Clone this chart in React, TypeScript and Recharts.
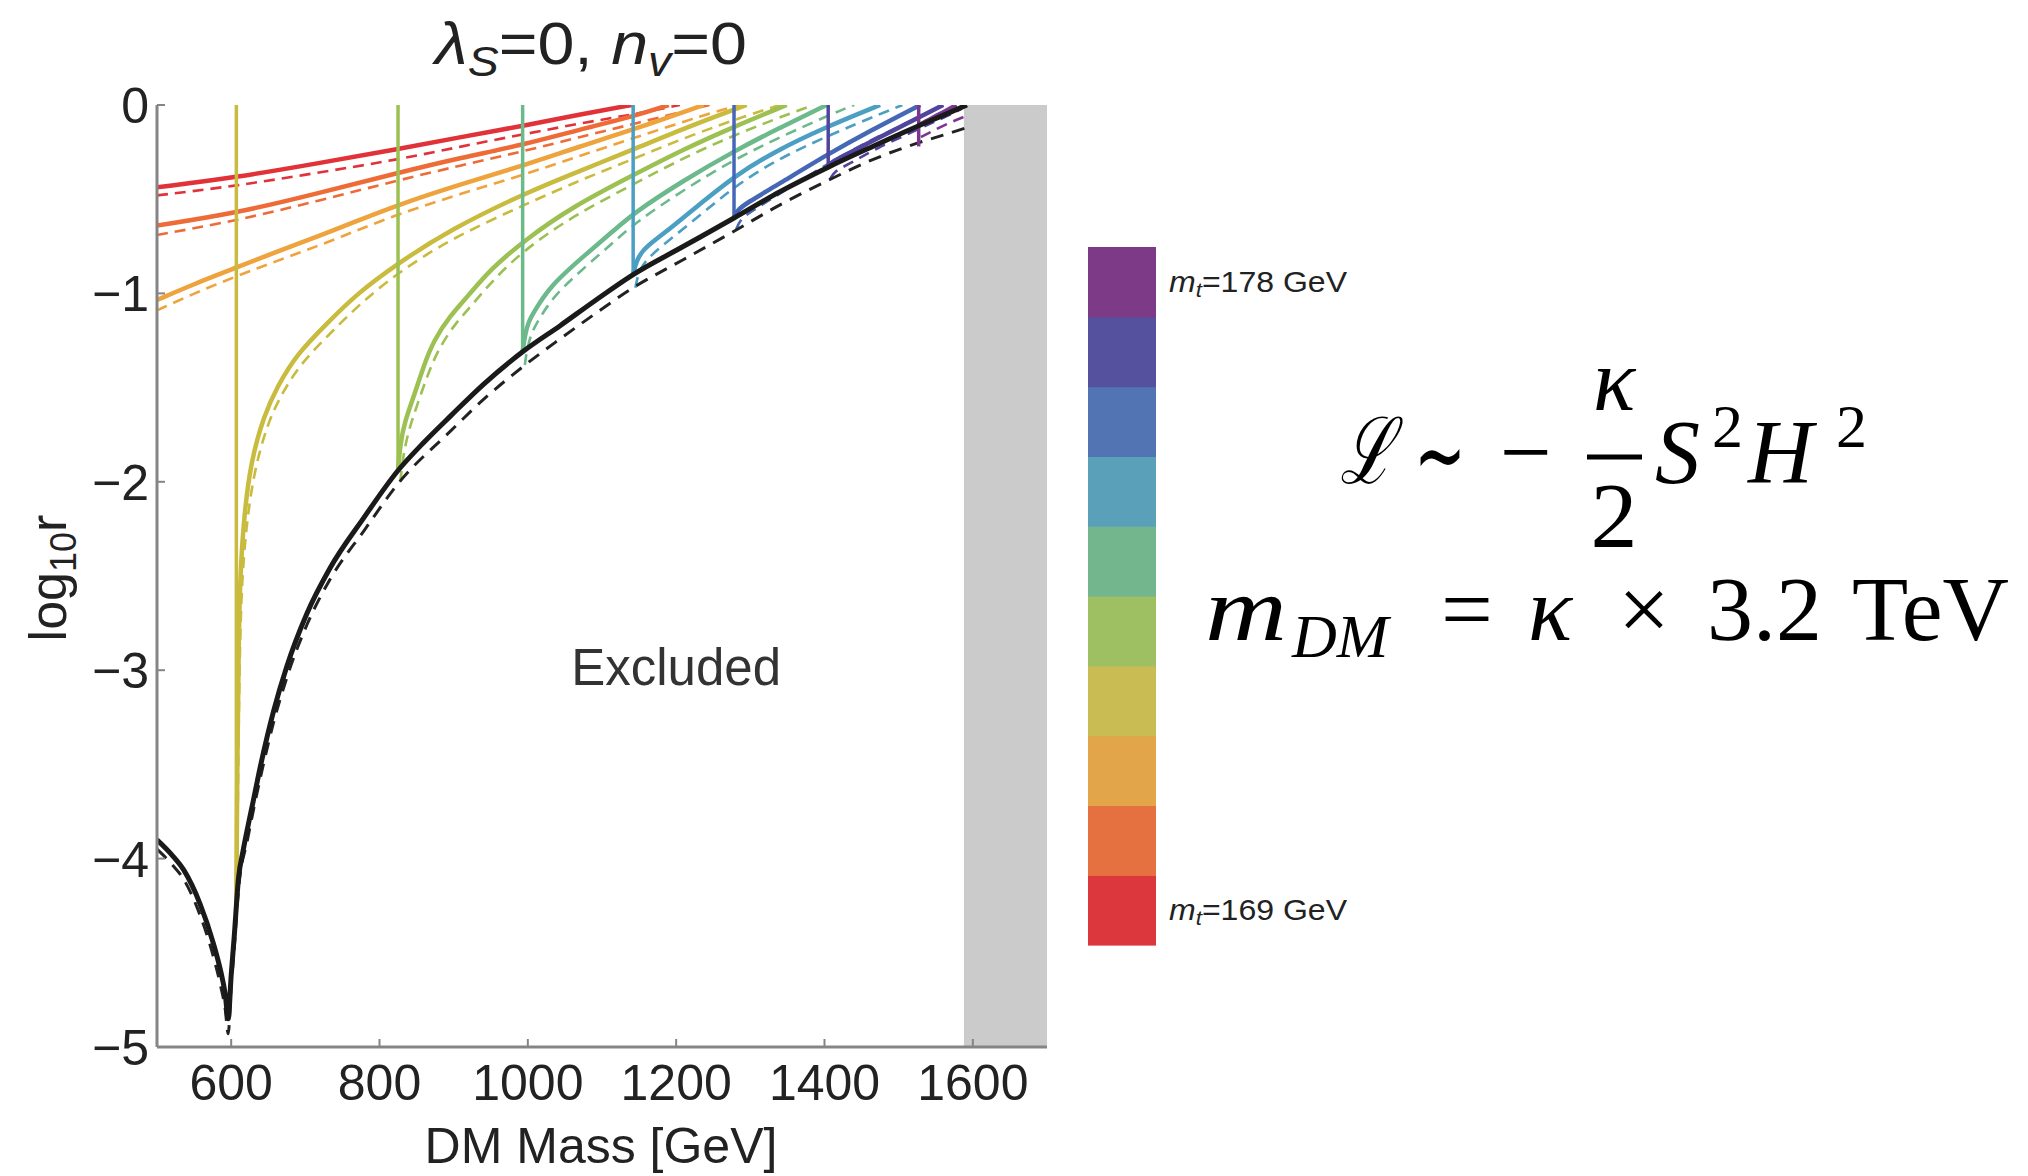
import { Line, LineChart, ReferenceArea, ReferenceDot, XAxis, YAxis } from "recharts";

// axis ticks
const xTicks = [600, 800, 1000, 1200, 1400, 1600];
const xMinorTicks = [500, 550, 600, 650, 700, 750, 800, 850, 900, 950, 1000, 1050, 1100, 1150, 1200, 1250, 1300, 1350, 1400, 1450, 1500, 1550, 1600, 1650, 1700];
const yTicks = [0, -1, -2, -3, -4, -5];
const yMinorTicks = [0, -0.2, -0.4, -0.6, -0.8, -1, -1.2, -1.4, -1.6, -1.8, -2, -2.2, -2.4, -2.6, -2.8, -3, -3.2, -3.4, -3.6, -3.8, -4, -4.2, -4.4, -4.6, -4.8, -5];

// top mass per curve, bottom (169) to top (178)
const topMasses = [169, 170, 171, 172, 173, 174, 175, 176, 177, 178];
const lineColors = ["#e23239", "#ee6b37", "#eea33c", "#c8bb3e", "#9cc052", "#6cb98b", "#4b9fc3", "#4568b6", "#50459e", "#7b3590"];
const barColors = ["#db373c", "#e57040", "#e3a54a", "#c8bc52", "#9ebf62", "#73b58c", "#5aa0b8", "#5274b2", "#55519e", "#7d3a87"];

// [DM mass, log10 r]  solid and dashed
const mt169 = [[500, -0.437], [606, -0.385], [716, -0.31], [825, -0.234], [910, -0.17], [995, -0.11], [1070, -0.05], [1140, 0]];
const mt169d = [[500, -0.48], [606, -0.43], [716, -0.36], [825, -0.29], [910, -0.22], [995, -0.155], [1080, -0.09], [1143, -0.05], [1205, 0]];
const mt170 = [[500, -0.64], [606, -0.575], [716, -0.47], [825, -0.36], [910, -0.28], [995, -0.21], [1070, -0.13], [1143, -0.06], [1190, 0]];
const mt170d = [[500, -0.69], [606, -0.615], [716, -0.51], [825, -0.4], [910, -0.32], [995, -0.245], [1070, -0.17], [1143, -0.1], [1245, 0]];
const mt171 = [[500, -1.035], [550, -0.95], [606, -0.865], [660, -0.78], [716, -0.7], [770, -0.615], [825, -0.53], [910, -0.42], [995, -0.32], [1070, -0.22], [1143, -0.13], [1237, 0]];
const mt171d = [[500, -1.09], [550, -1.0], [606, -0.91], [660, -0.83], [716, -0.75], [770, -0.665], [825, -0.58], [910, -0.47], [995, -0.37], [1070, -0.27], [1143, -0.175], [1240, -0.05], [1285, 0]];
const mt172 = [[607, -4.26], [608, -3.6], [610, -2.9], [612, -2.5], [617, -2.2], [626, -1.9], [644, -1.65], [662, -1.495], [689, -1.32], [729, -1.16], [770, -1.0], [825, -0.84], [896, -0.66], [995, -0.47], [1070, -0.35], [1143, -0.235], [1220, -0.11], [1295, 0]];
const mt172d = [[609, -3.7], [611, -3.0], [614, -2.55], [620, -2.25], [630, -1.96], [648, -1.7], [667, -1.54], [694, -1.37], [734, -1.21], [775, -1.05], [825, -0.89], [896, -0.71], [995, -0.53], [1070, -0.4], [1143, -0.285], [1220, -0.16], [1300, -0.05], [1340, 0]];
const mt173 = [[825, -1.94], [828, -1.8], [834, -1.68], [846, -1.55], [860, -1.38], [873, -1.25], [895, -1.12], [918, -1.02], [950, -0.87], [995, -0.72], [1060, -0.54], [1143, -0.37], [1210, -0.235], [1278, -0.115], [1349, 0]];
const mt173d = [[828, -2.0], [832, -1.86], [839, -1.73], [851, -1.59], [865, -1.43], [879, -1.3], [900, -1.17], [923, -1.07], [955, -0.92], [995, -0.77], [1060, -0.59], [1143, -0.42], [1210, -0.28], [1278, -0.16], [1350, -0.05], [1385, 0]];
const mt174 = [[993, -1.31], [996, -1.22], [1001, -1.15], [1008, -1.1], [1030, -0.96], [1076, -0.8], [1115, -0.67], [1142, -0.575], [1210, -0.4], [1278, -0.245], [1340, -0.12], [1403, 0]];
const mt174d = [[996, -1.38], [999, -1.29], [1005, -1.21], [1013, -1.15], [1035, -1.01], [1080, -0.85], [1118, -0.72], [1145, -0.625], [1210, -0.45], [1278, -0.29], [1340, -0.17], [1420, -0.03], [1440, 0]];
const mt175 = [[1142, -0.9], [1146, -0.83], [1155, -0.77], [1170, -0.72], [1192, -0.655], [1237, -0.51], [1278, -0.38], [1331, -0.25], [1403, -0.115], [1475, 0]];
const mt175d = [[1145, -0.97], [1149, -0.89], [1158, -0.83], [1174, -0.77], [1196, -0.7], [1240, -0.56], [1280, -0.43], [1331, -0.3], [1403, -0.165], [1480, -0.04], [1505, 0]];
const mt176 = [[1278, -0.6], [1282, -0.56], [1295, -0.52], [1336, -0.425], [1405, -0.26], [1460, -0.14], [1529, 0]];
const mt176d = [[1281, -0.66], [1286, -0.61], [1299, -0.57], [1340, -0.47], [1405, -0.31], [1460, -0.19], [1530, -0.06], [1560, 0]];
const mt177 = [[1405, -0.33], [1410, -0.3], [1426, -0.27], [1470, -0.18], [1520, -0.08], [1560, 0]];
const mt177d = [[1408, -0.39], [1414, -0.35], [1430, -0.32], [1470, -0.23], [1520, -0.14], [1570, -0.05], [1585, -0.02]];
const mt178 = [[1527, -0.11], [1535, -0.09], [1555, -0.05], [1578, 0]];
const mt178d = [[1530, -0.17], [1545, -0.14], [1565, -0.1], [1590, -0.06]];

// vertical drops, mt = 172 ... 178
const dropX = [607, 825, 993, 1142, 1278, 1405, 1527];
const dropBottom = [-4.26, -1.94, -1.31, -0.9, -0.6, -0.33, -0.22];

// black boundary (solid / dashed)
const bound = [[500, -3.9], [520, -3.98], [536, -4.06], [558, -4.24], [576, -4.45], [586, -4.6], [592, -4.72], [596, -4.85], [600, -4.62], [604, -4.42], [610, -4.1], [616, -3.96], [622, -3.84], [630, -3.69], [640, -3.5], [657, -3.22], [675, -2.98], [702, -2.7], [733, -2.46], [779, -2.19], [825, -1.94], [860, -1.79], [896, -1.65], [941, -1.48], [993, -1.31], [1044, -1.17], [1090, -1.04], [1142, -0.9], [1210, -0.75], [1278, -0.6], [1340, -0.46], [1405, -0.33], [1465, -0.22], [1527, -0.11], [1560, -0.055], [1592, 0]];
const boundD = [[500, -3.95], [520, -4.03], [536, -4.11], [558, -4.3], [576, -4.52], [586, -4.68], [592, -4.8], [596, -4.93], [600, -4.68], [604, -4.48], [610, -4.16], [622, -3.9], [640, -3.56], [657, -3.28], [675, -3.04], [702, -2.76], [733, -2.52], [779, -2.26], [825, -2.01], [896, -1.73], [941, -1.56], [993, -1.39], [1044, -1.24], [1090, -1.11], [1142, -0.97], [1210, -0.82], [1278, -0.67], [1340, -0.53], [1405, -0.4], [1465, -0.29], [1527, -0.2], [1560, -0.16], [1592, -0.12]];

const solidCurves = [mt169, mt170, mt171, mt172, mt173, mt174, mt175, mt176, mt177, mt178];
const dashedCurves = [mt169d, mt170d, mt171d, mt172d, mt173d, mt174d, mt175d, mt176d, mt177d, mt178d];

const excludedFrom = 1588;

const FRAME = "#858585";
const SANS = "'Liberation Sans', Arial, Helvetica, sans-serif";
const SERIF = "'Liberation Serif', 'DejaVu Serif', 'Times New Roman', serif";

const pts = (a: number[][]) => a.map(([x, y]) => ({ x, y }));

function XTick(props: any) {
  const { x, y, payload } = props;
  return (
    <text x={x} y={y + 53} textAnchor="middle" fontFamily={SANS} fontSize={50} fill="#222">
      {payload.value}
    </text>
  );
}

function YTick(props: any) {
  const { x, y, payload } = props;
  const v = payload.value;
  const label = v < 0 ? `\u2212${Math.abs(v)}` : `${v}`;
  return (
    <text x={x} y={y + 18} textAnchor="end" fontFamily={SANS} fontSize={50} fill="#222">
      {label}
    </text>
  );
}

function ExcludedText(props: any) {
  return (
    <text x={props.cx} y={props.cy} textAnchor="middle" fontFamily={SANS} fontSize={51} fill="#333">
      Excluded
    </text>
  );
}

function Overlay() {
  const segH = 69.8;
  const barTop = 247;
  return (
    <svg width={2028} height={1176} style={{ position: "absolute", left: 0, top: 0, pointerEvents: "none" }}>
      {/* title */}
      <text x={591} y={64} textAnchor="middle" fontFamily={SANS} fontSize={60} fill="#222" textLength={312} lengthAdjust="spacingAndGlyphs">
        <tspan fontStyle="italic">λ</tspan>
        <tspan fontStyle="italic" fontSize={42} dy={12}>S</tspan>
        <tspan dy={-12}>=0, </tspan>
        <tspan fontStyle="italic">n</tspan>
        <tspan fontStyle="italic" fontSize={42} dy={12}>v</tspan>
        <tspan dy={-12}>=0</tspan>
      </text>
      {/* axis titles */}
      <text transform="translate(66,578) rotate(-90)" textAnchor="middle" fontFamily={SANS} fontSize={52} fill="#222">
        log<tspan fontSize={36} dy={10}>10</tspan>
        <tspan dy={-10}>r</tspan>
      </text>
      <text x={601} y={1163} textAnchor="middle" fontFamily={SANS} fontSize={50} fill="#222">
        DM Mass [GeV]
      </text>
      {/* colour bar */}
      {barColors.map((c, i) => (
        <rect key={c} x={1088} y={barTop + (barColors.length - 1 - i) * segH} width={68} height={segH + 0.6} fill={c} />
      ))}
      {[topMasses.length - 1, 0].map((i) => (
        <text
          key={i}
          x={1169}
          y={barTop + (barColors.length - 1 - i) * segH + segH / 2 + 10}
          fontFamily={SANS}
          fontSize={30}
          fill="#222"
          textLength={178}
          lengthAdjust="spacingAndGlyphs"
        >
          <tspan fontStyle="italic">m</tspan>
          <tspan fontStyle="italic" fontSize={21} dy={5}>t</tspan>
          <tspan dy={-5}>={topMasses[i]} GeV</tspan>
        </text>
      ))}
      {/* formula */}
      <g fontFamily={SERIF} fill="#000">
        <text x={1340} y={483} fontSize={92} fontStyle="italic" textLength={54} lengthAdjust="spacingAndGlyphs">ℒ</text>
        <text x={1414} y={489} fontSize={100} fontFamily="'DejaVu Sans', sans-serif" textLength={52} lengthAdjust="spacingAndGlyphs">∼</text>
        <text x={1500} y={483} fontSize={92}>−</text>
        <text x={1614} y={410} fontSize={88} fontStyle="italic" textAnchor="middle">κ</text>
        <line x1={1587} x2={1642} y1={457} y2={457} stroke="#000" strokeWidth={5} />
        <text x={1614} y={547} fontSize={94} textAnchor="middle">2</text>
        <text x={1655} y={483} fontSize={90} fontStyle="italic">S</text>
        <text x={1712} y={447} fontSize={62}>2</text>
        <text x={1748} y={483} fontSize={90} fontStyle="italic">H</text>
        <text x={1836} y={447} fontSize={62}>2</text>

        <text x={1205} y={640} fontSize={92} fontStyle="italic" textLength={82} lengthAdjust="spacingAndGlyphs">m</text>
        <text x={1292} y={657} fontSize={62} fontStyle="italic">DM</text>
        <text x={1441} y={640} fontSize={92}>=</text>
        <text x={1528} y={640} fontSize={92} fontStyle="italic">κ</text>
        <text x={1618} y={640} fontSize={92}>×</text>
        <text x={1707} y={640} fontSize={92}>3.2</text>
        <text x={1852} y={640} fontSize={92}>TeV</text>
      </g>
    </svg>
  );
}

export default function App() {
  const frameLine = { stroke: FRAME, strokeWidth: 3 };
  const tickLine = { stroke: FRAME, strokeWidth: 2 };
  return (
    <div style={{ position: "absolute", left: 0, top: 0, width: 2028, height: 1176, background: "#fff" }}>
      <LineChart width={1060} height={1176} margin={{ top: 105, right: 13, bottom: 0, left: 0 }}>
        {/* minor tick axes (zero size) */}
        <XAxis xAxisId="xbm" orientation="bottom" type="number" domain={[500, 1700]} ticks={xMinorTicks} interval={0} height={0} tickSize={-4} tick={false} axisLine={false} tickLine={tickLine} allowDataOverflow />
        <XAxis xAxisId="xtm" orientation="top" type="number" domain={[500, 1700]} ticks={xMinorTicks} interval={0} height={0} tickSize={-4} tick={false} axisLine={false} tickLine={tickLine} allowDataOverflow />
        <XAxis xAxisId="xt" orientation="top" type="number" domain={[500, 1700]} ticks={xTicks} interval={0} height={0} tickSize={-8} tick={false} axisLine={{ stroke: "#9a9a9a", strokeWidth: 2 }} tickLine={tickLine} allowDataOverflow />
        <YAxis yAxisId="ylm" orientation="left" type="number" domain={[-5, 0]} ticks={yMinorTicks} interval={0} width={0} tickSize={-4} tick={false} axisLine={false} tickLine={tickLine} allowDataOverflow />
        <YAxis yAxisId="yrm" orientation="right" type="number" domain={[-5, 0]} ticks={yMinorTicks} interval={0} width={0} tickSize={-4} tick={false} axisLine={false} tickLine={tickLine} allowDataOverflow />
        <YAxis yAxisId="yr" orientation="right" type="number" domain={[-5, 0]} ticks={yTicks} interval={0} width={0} tickSize={-8} tick={false} axisLine={{ stroke: "#9a9a9a", strokeWidth: 2 }} tickLine={tickLine} allowDataOverflow />
        {/* main axes */}
        <XAxis xAxisId="x" dataKey="x" type="number" domain={[500, 1700]} ticks={xTicks} interval={0} height={129} tickSize={-8} tickMargin={8} tick={<XTick />} axisLine={frameLine} tickLine={tickLine} allowDataOverflow />
        <YAxis yAxisId="y" type="number" domain={[-5, 0]} ticks={yTicks} interval={0} width={157} tickSize={-8} tickMargin={16} tick={<YTick />} axisLine={frameLine} tickLine={tickLine} allowDataOverflow />

        <ReferenceArea xAxisId="x" yAxisId="y" x1={excludedFrom} x2={1700} y1={-5} y2={0} fill="#cbcbcb" fillOpacity={1} stroke="none" />

        {dashedCurves.map((d, i) => (
          <Line key={`d${i}`} xAxisId="x" yAxisId="y" data={pts(d)} dataKey="y" type="basis" stroke={lineColors[i]} strokeWidth={2.6} strokeDasharray="11 7" dot={false} activeDot={false} isAnimationActive={false} />
        ))}
        <Line xAxisId="x" yAxisId="y" data={pts(boundD)} dataKey="y" type="monotone" stroke="#222" strokeWidth={3} strokeDasharray="13 9" dot={false} activeDot={false} isAnimationActive={false} />
        {solidCurves.map((d, i) => (
          <Line key={`s${i}`} xAxisId="x" yAxisId="y" data={pts(d)} dataKey="y" type="basis" stroke={lineColors[i]} strokeWidth={4.5} dot={false} activeDot={false} isAnimationActive={false} />
        ))}
        {dropX.map((x, i) => (
          <Line key={`v${i}`} xAxisId="x" yAxisId="y" data={[{ x, y: 0 }, { x, y: dropBottom[i] }]} dataKey="y" type="linear" stroke={lineColors[i + 3]} strokeWidth={3.5} dot={false} activeDot={false} isAnimationActive={false} />
        ))}
        <Line xAxisId="x" yAxisId="y" data={pts(bound)} dataKey="y" type="monotone" stroke="#1a1a1a" strokeWidth={5} dot={false} activeDot={false} isAnimationActive={false} />

        <ReferenceDot xAxisId="x" yAxisId="y" x={1200} y={-3.08} r={0} shape={<ExcludedText />} />
      </LineChart>
      <Overlay />
    </div>
  );
}
